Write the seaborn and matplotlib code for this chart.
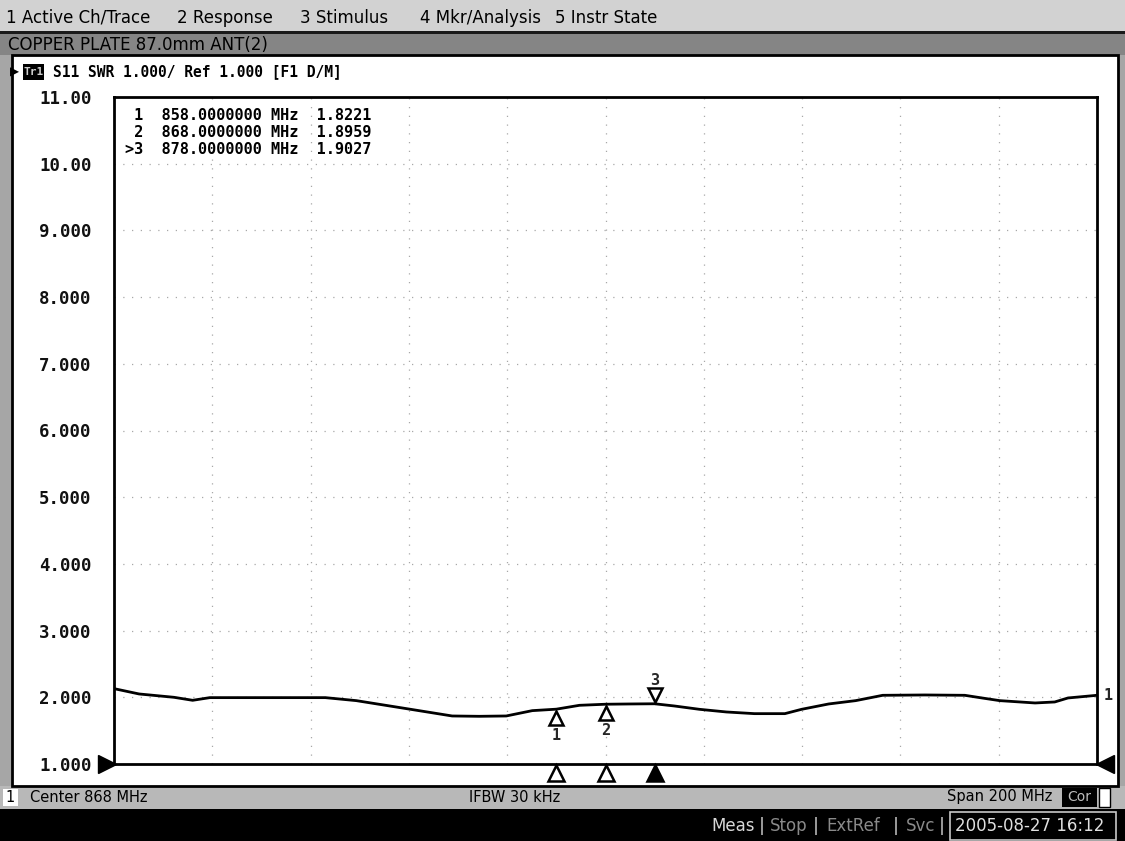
import numpy as np
import pandas as pd
import matplotlib
matplotlib.use('Agg')
import matplotlib.pyplot as plt
import seaborn as sns
from matplotlib.patches import Rectangle
from matplotlib.transforms import offset_copy, blended_transform_factory

# ---------------- data ----------------
freq_mhz = [768.0, 773.1, 780.2, 784.0, 787.5, 811.0, 817.3, 827.5, 836.8, 842.3,
            847.8, 853.1, 858.0, 862.7, 868.0, 872.9, 878.0, 882.0, 887.1, 892.6,
            898.3, 904.5, 907.9, 913.4, 918.9, 924.4, 933.0, 941.1, 944.6, 948.2,
            955.4, 959.4, 962.1, 968.0]
swr = [2.13, 2.05, 2.00, 1.955, 1.995, 1.995, 1.95, 1.83, 1.72, 1.715,
       1.72, 1.80, 1.822, 1.88, 1.896, 1.90, 1.903, 1.87, 1.82, 1.78,
       1.755, 1.755, 1.82, 1.90, 1.95, 2.03, 2.035, 2.03, 1.99, 1.95,
       1.915, 1.93, 1.99, 2.03]

marker_ids = [1, 2, 3]
marker_freq = [858.0, 868.0, 878.0]
marker_val = [1.8221, 1.8959, 1.9027]
active_marker = 3

y_ticks = [1, 2, 3, 4, 5, 6, 7, 8, 9, 10, 11]
y_tick_labels = ['1.000', '2.000', '3.000', '4.000', '5.000', '6.000',
                 '7.000', '8.000', '9.000', '10.00', '11.00']
center_mhz = 868
span_mhz = 200

menu_items = ['1 Active Ch/Trace', '2 Response', '3 Stimulus', '4 Mkr/Analysis', '5 Instr State']
title_text = 'COPPER PLATE 87.0mm ANT(2)'
trace_header = 'S11 SWR 1.000/ Ref 1.000 [F1 D/M]'
ifbw_text = 'IFBW 30 kHz'
status_items = ['Meas', 'Stop', 'ExtRef', 'Svc']
timestamp = '2005-08-27 16:12'

# ---------------- figure ----------------
W, H = 1125, 841
sns.set_theme(style='white')
plt.rcParams['font.family'] = ['DejaVu Sans']
MONO = 'DejaVu Sans Mono'

fig = plt.figure(figsize=(W / 100, H / 100), dpi=100)
fig.patch.set_facecolor('white')


def rect(x0, y0, x1, y1, fc, ec='none', lw=0, z=0):
    fig.add_artist(Rectangle((x0 / W, 1 - y1 / H), (x1 - x0) / W, (y1 - y0) / H,
                             transform=fig.transFigure, facecolor=fc,
                             edgecolor=ec, lw=lw, zorder=z))


def text(x, y, s, **kw):
    kw.setdefault('va', 'center')
    fig.text(x / W, 1 - y / H, s, **kw)


# background chrome
rect(0, 0, W, 31, '#d2d2d2')
rect(0, 31, W, 34, '#1a1a1a', z=1)
rect(0, 34, W, 841, '#a6a6a6')
rect(0, 34, W, 55, '#858585', z=1)
rect(12, 55, 1118, 786, 'white', z=1)
rect(12, 55, 1118, 786, 'none', ec='black', lw=2, z=2)
rect(0, 786, W, 809, '#b8b8b8', z=1)
rect(0, 809, W, 841, 'black', z=1)

# menu bar
menu_x = [6, 177, 300, 420, 555]
for mx, s in zip(menu_x, menu_items):
    text(mx, 18, s, fontsize=12, color='black', zorder=5)

text(8, 45, title_text, fontsize=12, color='black', zorder=5)

# trace header
text(10, 72, '\u25B6', fontsize=8.5, color='black', zorder=5)
rect(23, 64, 44, 80, 'black', z=4)
text(33.5, 72, 'Tr1', fontsize=8, color='#cfcfcf', ha='center',
     family=MONO, fontweight='bold', zorder=5)
text(53, 72, trace_header, fontsize=10.5, family=MONO, fontweight='bold',
     color='black', zorder=5)

# ---------------- main axes ----------------
ax = fig.add_axes([114 / W, 1 - 764 / H, (1097 - 114) / W, (764 - 97) / H], zorder=3)
ax.set_facecolor('white')
df = pd.DataFrame({'freq': freq_mhz, 'swr': swr})
sns.lineplot(data=df, x='freq', y='swr', ax=ax, color='black', lw=2.0,
             estimator=None, zorder=4)

x0, x1 = center_mhz - span_mhz / 2, center_mhz + span_mhz / 2
ax.set_xlim(x0, x1)
ax.set_ylim(y_ticks[0], y_ticks[-1])
ax.set_xticks(np.linspace(x0, x1, 11))
ax.set_xticklabels([])
ax.set_yticks(y_ticks)
ax.set_yticklabels(y_tick_labels, family=MONO, fontweight='bold', fontsize=12.5)
ax.tick_params(axis='y', length=0, pad=16, colors='#111111')
ax.tick_params(axis='x', length=0)
ax.set_xlabel('')
ax.set_ylabel('')
ax.grid(True, color='#a8a8a8', linestyle=(0, (1, 6)), lw=0.9)
for sp in ax.spines.values():
    sp.set_color('black')
    sp.set_linewidth(2)

# marker table
for i, (mid, f, v) in enumerate(zip(marker_ids, marker_freq, marker_val)):
    prefix = '>' if mid == active_marker else ' '
    s = f"{prefix}{mid}  {f:.7f} MHz  {v:.4f}"
    text(125, 116 + i * 16.5, s, fontsize=11, family=MONO, fontweight='bold',
         color='black', zorder=6)

# markers on the trace
for mid, f, v in zip(marker_ids, marker_freq, marker_val):
    if mid == active_marker:
        tr = offset_copy(ax.transData, fig=fig, x=0, y=9, units='dots')
        ax.plot([f], [v], marker='v', ms=10, mfc='white', mec='black', mew=1.8,
                transform=tr, clip_on=False, zorder=6)
        ax.annotate(str(mid), (f, v), xytext=(0, 23), textcoords='offset pixels',
                    ha='center', va='center', fontsize=11, family=MONO,
                    fontweight='bold', zorder=6)
    else:
        tr = offset_copy(ax.transData, fig=fig, x=0, y=-9, units='dots')
        ax.plot([f], [v], marker='^', ms=10, mfc='white', mec='black', mew=1.8,
                transform=tr, clip_on=False, zorder=6)
        ax.annotate(str(mid), (f, v), xytext=(0, -26), textcoords='offset pixels',
                    ha='center', va='center', fontsize=11, family=MONO,
                    fontweight='bold', zorder=6)

# marker indicators below the graticule
xb = blended_transform_factory(ax.transData, ax.transAxes)
for mid, f in zip(marker_ids, marker_freq):
    tr = offset_copy(xb, fig=fig, x=0, y=-9, units='dots')
    fc = 'black' if mid == active_marker else 'white'
    ax.plot([f], [0], marker='^', ms=12, mfc=fc, mec='black', mew=1.8,
            transform=tr, clip_on=False, zorder=6)

# reference level arrows
yb = blended_transform_factory(ax.transAxes, ax.transData)
ax.plot([0], [y_ticks[0]], marker='>', ms=13, color='black',
        transform=offset_copy(yb, fig=fig, x=-7, y=0, units='dots'), clip_on=False)
ax.plot([1], [y_ticks[0]], marker='<', ms=13, color='black',
        transform=offset_copy(yb, fig=fig, x=8, y=0, units='dots'), clip_on=False)
ax.annotate('1', (1, swr[-1]), xycoords=yb, xytext=(7, 0), textcoords='offset pixels',
            ha='left', va='center', fontsize=11, family=MONO, fontweight='bold')

# ---------------- status bar ----------------
rect(3, 789, 18, 806, 'white', z=2)
text(10.5, 797, '1', fontsize=10.5, ha='center', color='black', zorder=5)
text(30, 797, f'Center {center_mhz} MHz', fontsize=10.5, color='black', zorder=5)
text(515, 797, ifbw_text, fontsize=10.5, ha='center', color='black', zorder=5)
text(1052, 797, f'Span {span_mhz} MHz', fontsize=10.5, ha='right', color='black', zorder=5)
rect(1062, 788, 1097, 807, 'black', z=2)
text(1079.5, 797, 'Cor', fontsize=10, ha='center', color='#bdbdbd', zorder=5)
rect(1099, 788, 1110, 807, 'white', ec='black', lw=1, z=2)

# bottom black bar
sx = [711, 770, 826, 906]
scol = ['#d8d8d8', '#8a8a8a', '#8a8a8a', '#8a8a8a']
for x, s, c in zip(sx, status_items, scol):
    text(x, 826, s, fontsize=12, color=c, zorder=5)
for x in [762, 816, 896, 942]:
    text(x, 826, '|', fontsize=13, color='#c8c8c8', ha='center', zorder=5)
rect(950, 812, 1116, 840, 'none', ec='#c8c8c8', lw=1.2, z=4)
text(955, 826, timestamp, fontsize=12, color='#e0e0e0', zorder=5)

fig.savefig('out.png', dpi=100, facecolor=fig.get_facecolor())
